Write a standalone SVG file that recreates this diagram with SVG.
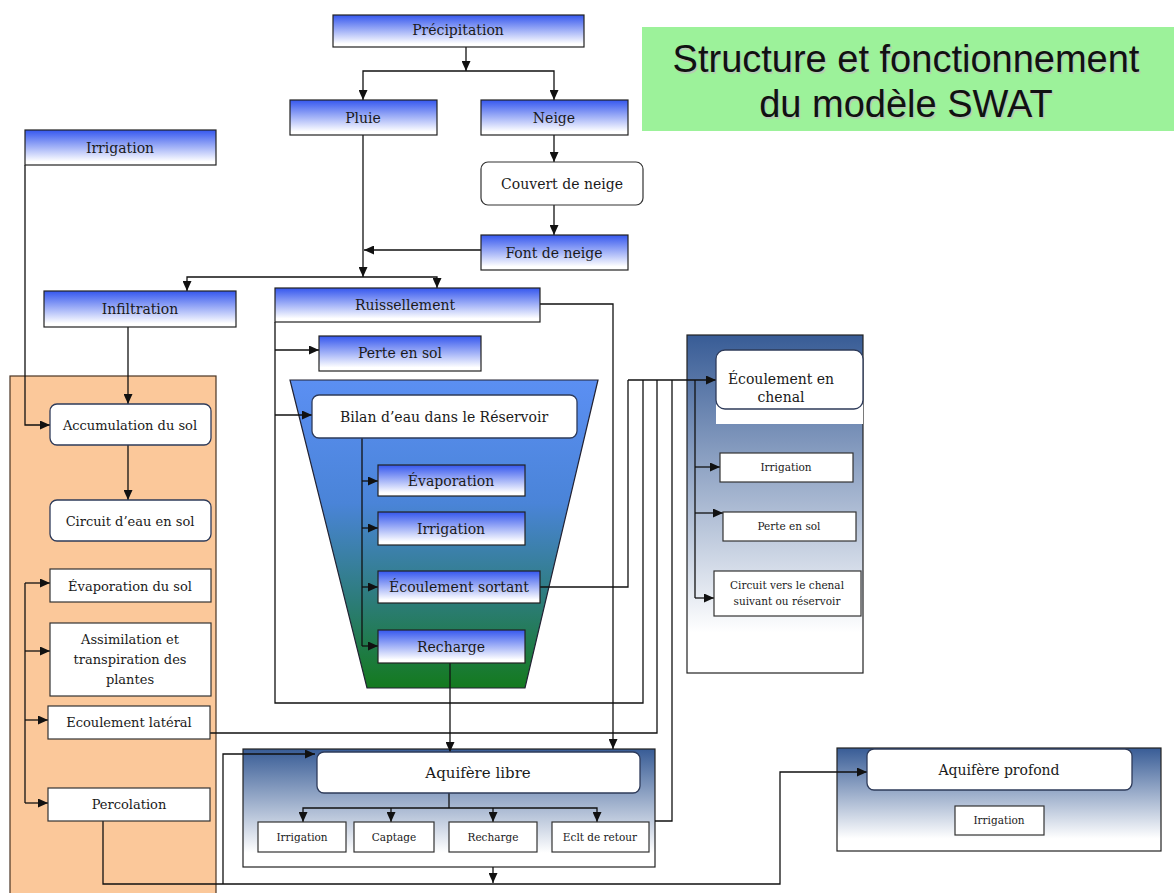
<svg xmlns="http://www.w3.org/2000/svg" width="1174" height="893" viewBox="0 0 1174 893">
  <defs>
    <linearGradient id="gBlue" x1="0" y1="0" x2="0" y2="1">
      <stop offset="0" stop-color="#3557ee"/>
      <stop offset="0.9" stop-color="#ffffff"/>
    </linearGradient>
    <linearGradient id="gPanel" x1="0" y1="0" x2="0" y2="1">
      <stop offset="0" stop-color="#385c96"/>
      <stop offset="0.88" stop-color="#ffffff"/>
    </linearGradient>
    <linearGradient id="gRes" x1="0" y1="0" x2="0" y2="1">
      <stop offset="0" stop-color="#5b8ff3"/>
      <stop offset="0.4" stop-color="#4a84d8"/>
      <stop offset="0.72" stop-color="#2c7c78"/>
      <stop offset="1" stop-color="#147a1e"/>
    </linearGradient>
    <marker id="ah" markerUnits="userSpaceOnUse" markerWidth="10" markerHeight="9" viewBox="0 0 10 9" refX="10" refY="4.5" orient="auto">
      <path d="M0,0 L10,4.5 L0,9 z" fill="#111"/>
    </marker>
    <style>
      .bx { fill: url(#gBlue); stroke: #222; stroke-width: 1.2; }
      .wb { fill: #fff; stroke: #333; stroke-width: 1.2; }
      .rb { fill: #fff; stroke: #2e3b5a; stroke-width: 1.3; }
      .pn { fill: url(#gPanel); stroke: #222; stroke-width: 1.2; }
      .t { font-family: "DejaVu Serif", "Liberation Serif", serif; fill: #1a1a1a; text-anchor: middle; font-size: 14px; }
      .s { font-size: 10.5px; }
      .ln { fill: none; stroke: #111; stroke-width: 1.3; }
      .ar { marker-end: url(#ah); }
      .ttl { font-family: "Liberation Sans", Arial, sans-serif; font-size: 38px; text-anchor: middle; }
    </style>
  </defs>

  <rect width="1174" height="893" fill="#fff"/>

  <!-- title -->
  <g id="title">
    <rect x="642" y="27" width="532" height="104" fill="#9cf29a"/>
    <text class="ttl" x="907.5" y="73.5" fill="#b4cdb3">Structure et fonctionnement</text>
    <text class="ttl" x="907.5" y="118.5" fill="#b4cdb3">du modèle SWAT</text>
    <text class="ttl" x="906" y="72" fill="#111">Structure et fonctionnement</text>
    <text class="ttl" x="906" y="117" fill="#111">du modèle SWAT</text>
  </g>

  <!-- background panels -->
  <g id="sol-panel">
    <rect x="10" y="376" width="206" height="530" fill="#fbc89a" stroke="#4a3424" stroke-width="1.2"/>
  </g>
  <g id="reservoir-panel">
    <polygon points="290,380 598,380 525,688 367,688" fill="url(#gRes)" stroke="#223" stroke-width="1.2"/>
  </g>
  <g id="chenal-panel">
    <rect class="pn" x="687" y="335" width="176" height="338"/>
    <rect x="716" y="362" width="147" height="62" fill="#fff"/>
  </g>
  <g id="aquifere-libre-panel">
    <rect class="pn" x="243" y="749" width="412" height="118"/>
  </g>
  <g id="aquifere-profond-panel">
    <rect class="pn" x="837" y="748" width="324" height="103"/>
  </g>

  <!-- connectors -->
  <g id="connectors">
    <path class="ln ar" d="M466,47 V71"/>
    <path class="ln ar" d="M466,71 H363 V100"/>
    <path class="ln ar" d="M466,71 H554 V100"/>
    <path class="ln ar" d="M554,135 V162"/>
    <path class="ln ar" d="M554,205 V235"/>
    <path class="ln ar" d="M481,250 H364"/>
    <path class="ln ar" d="M363,135 V277"/>
    <path class="ln ar" d="M363,277 H187 V291"/>
    <path class="ln ar" d="M363,277 H437 V288"/>
    <path class="ln ar" d="M25,165 V425 H50"/>
    <path class="ln ar" d="M128,327 V404"/>
    <path class="ln ar" d="M128,445 V500"/>
    <path class="ln" d="M25,583 V803"/>
    <path class="ln ar" d="M25,583 H50"/>
    <path class="ln ar" d="M25,651 H50"/>
    <path class="ln ar" d="M25,720 H48"/>
    <path class="ln ar" d="M25,803 H48"/>
    <path class="ln" d="M275,322 V703 H643 V380"/>
    <path class="ln ar" d="M275,350 H319"/>
    <path class="ln ar" d="M275,415 H312"/>
    <path class="ln ar" d="M540,304 H613 V749"/>
    <path class="ln" d="M362,438 V646"/>
    <path class="ln ar" d="M362,481 H378"/>
    <path class="ln ar" d="M362,528 H378"/>
    <path class="ln ar" d="M362,587 H378"/>
    <path class="ln ar" d="M362,646 H378"/>
    <path class="ln" d="M540,587 H628 V380"/>
    <path class="ln" d="M200,733 H657 V380"/>
    <path class="ln" d="M655,821 H672 V380"/>
    <path class="ln ar" d="M628,380 H716"/>
    <path class="ln" d="M695,380 V598"/>
    <path class="ln ar" d="M695,467 H720"/>
    <path class="ln ar" d="M695,513 H723"/>
    <path class="ln ar" d="M695,598 H714"/>
    <path class="ln ar" d="M450,663 V752"/>
    <path class="ln" d="M449,793 V808"/>
    <path class="ln ar" d="M449,808 H303 V822"/>
    <path class="ln ar" d="M449,808 H597 V822"/>
    <path class="ln ar" d="M391,808 V822"/>
    <path class="ln ar" d="M493,808 V822"/>
    <path class="ln ar" d="M493,867 V883"/>
    <path class="ln ar" d="M103,821 V884 H780 V772 H867"/>
    <path class="ln ar" d="M223,884 V754 H315"/>
  </g>

  <!-- nodes -->
  <g id="precipitation"><rect class="bx" x="333" y="15" width="251" height="32"/><text class="t" x="458" y="35">Précipitation</text></g>
  <g id="pluie"><rect class="bx" x="290" y="100" width="147" height="35"/><text class="t" x="363" y="123">Pluie</text></g>
  <g id="neige"><rect class="bx" x="481" y="100" width="147" height="35"/><text class="t" x="554" y="123">Neige</text></g>
  <g id="couvert"><rect class="wb" x="481" y="162" width="162" height="43" rx="7"/><text class="t" x="562" y="189">Couvert de neige</text></g>
  <g id="font-neige"><rect class="bx" x="481" y="235" width="147" height="35"/><text class="t" x="554" y="258">Font de neige</text></g>
  <g id="irrigation-src"><rect class="bx" x="25" y="130" width="191" height="35"/><text class="t" x="120" y="153">Irrigation</text></g>
  <g id="infiltration"><rect class="bx" x="44" y="291" width="192" height="36"/><text class="t" x="140" y="314">Infiltration</text></g>
  <g id="ruissellement"><rect class="bx" x="275" y="288" width="265" height="34"/><text class="t" x="405" y="310">Ruissellement</text></g>
  <g id="perte-sol"><rect class="bx" x="319" y="336" width="162" height="35"/><text class="t" x="400" y="358">Perte en sol</text></g>
  <g id="bilan"><rect class="rb" x="312" y="395" width="265" height="43" rx="7"/><text class="t" x="444" y="422">Bilan d’eau dans le Réservoir</text></g>
  <g id="res-evaporation"><rect class="bx" x="378" y="465" width="147" height="31"/><text class="t" x="451" y="486">Évaporation</text></g>
  <g id="res-irrigation"><rect class="bx" x="378" y="512" width="147" height="33"/><text class="t" x="451" y="534">Irrigation</text></g>
  <g id="res-ecoulement"><rect class="bx" x="378" y="571" width="162" height="32"/><text class="t" x="459" y="592">Écoulement sortant</text></g>
  <g id="res-recharge"><rect class="bx" x="378" y="630" width="147" height="33"/><text class="t" x="451" y="652">Recharge</text></g>

  <g id="accumulation"><rect class="rb" x="50" y="404" width="161" height="41" rx="7" stroke="#5a3a22"/><text class="t" x="130" y="430" style="font-size:13px">Accumulation du sol</text></g>
  <g id="circuit-sol"><rect class="rb" x="50" y="500" width="161" height="41" rx="7" stroke="#5a3a22"/><text class="t" x="130" y="526" style="font-size:13px">Circuit  d’eau en sol</text></g>
  <g id="evap-sol"><rect class="wb" x="50" y="569" width="161" height="33"/><text class="t" x="130" y="591" style="font-size:13px">Évaporation du sol</text></g>
  <g id="assimilation"><rect class="wb" x="50" y="623" width="161" height="73"/>
    <text class="t" x="130" y="644" style="font-size:13px">Assimilation  et</text>
    <text class="t" x="130" y="664" style="font-size:13px">transpiration des</text>
    <text class="t" x="130" y="684" style="font-size:13px">plantes</text></g>
  <g id="ecoulement-lateral"><rect class="wb" x="48" y="706" width="162" height="33"/><text class="t" x="129" y="727" style="font-size:13px">Ecoulement latéral</text></g>
  <g id="percolation"><rect class="wb" x="48" y="788" width="162" height="33"/><text class="t" x="129" y="809" style="font-size:13px">Percolation</text></g>

  <g id="chenal"><rect class="rb" x="716" y="350" width="147" height="59" rx="9"/>
    <text class="t" x="781" y="384">Écoulement en</text>
    <text class="t" x="781" y="402">chenal</text></g>
  <g id="chenal-irrigation"><rect class="wb" x="720" y="453" width="133" height="29"/><text class="t s" x="786" y="471">Irrigation</text></g>
  <g id="chenal-perte"><rect class="wb" x="723" y="512" width="133" height="29"/><text class="t s" x="789" y="530">Perte en sol</text></g>
  <g id="chenal-circuit"><rect class="wb" x="714" y="571" width="147" height="45"/>
    <text class="t s" x="787" y="589">Circuit vers le chenal</text>
    <text class="t s" x="787" y="605">suivant ou réservoir</text></g>

  <g id="aquifere-libre"><rect class="rb" x="317" y="752" width="323" height="41" rx="7"/><text class="t" x="478" y="778" style="font-size:15px">Aquifère libre</text></g>
  <g id="al-irrigation"><rect class="wb" x="258" y="822" width="88" height="30"/><text class="t s" x="302" y="841">Irrigation</text></g>
  <g id="al-captage"><rect class="wb" x="354" y="822" width="80" height="30"/><text class="t s" x="394" y="841">Captage</text></g>
  <g id="al-recharge"><rect class="wb" x="449" y="822" width="88" height="30"/><text class="t s" x="493" y="841">Recharge</text></g>
  <g id="al-retour"><rect class="wb" x="552" y="822" width="97" height="30"/><text class="t s" x="600" y="841">Eclt de retour</text></g>

  <g id="aquifere-profond"><rect class="rb" x="867" y="749" width="265" height="41" rx="7"/><text class="t" x="999" y="775">Aquifère profond</text></g>
  <g id="ap-irrigation"><rect class="wb" x="955" y="806" width="89" height="29"/><text class="t s" x="999" y="824">Irrigation</text></g>
</svg>
